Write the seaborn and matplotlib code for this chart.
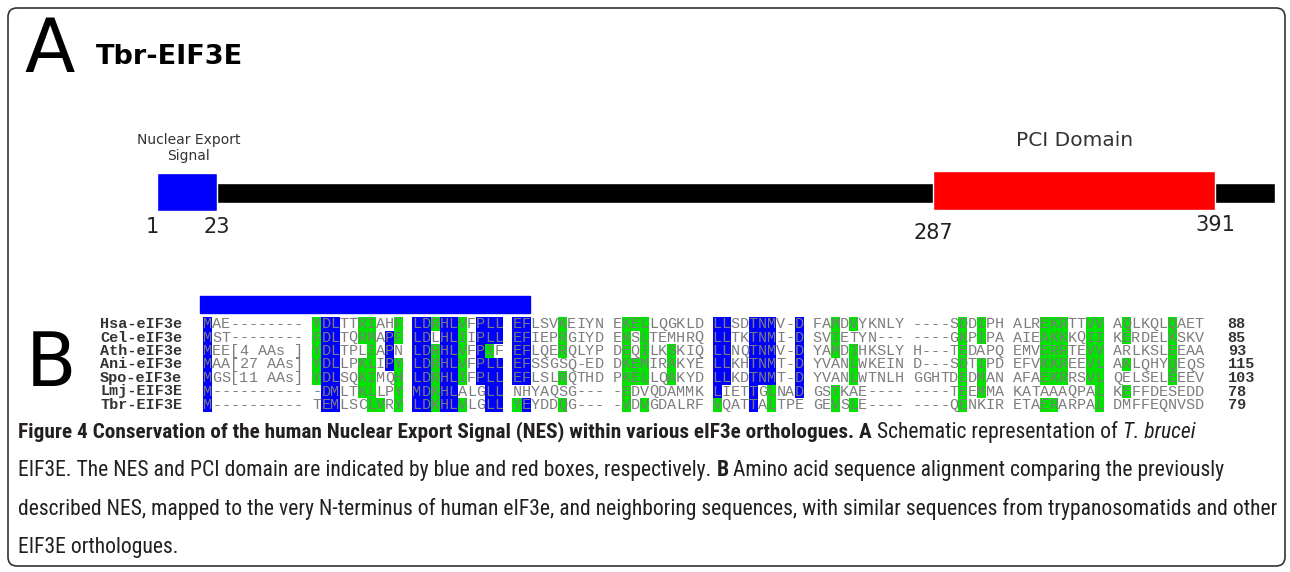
import numpy as np
import matplotlib
matplotlib.use("Agg")
import matplotlib.pyplot as plt
import seaborn as sns
from matplotlib.colors import ListedColormap
from matplotlib.patches import Rectangle, FancyBboxPatch
from matplotlib.transforms import IdentityTransform
from matplotlib import font_manager

W, H, DPI = 1290, 572, 100

# ---------------- data ----------------
panel_title = "Tbr-EIF3E"
protein_length = 413
nes_domain = (1, 23)
pci_domain = (287, 391)
nes_label = "Nuclear Export\nSignal"
pci_label = "PCI Domain"
position_labels = [1, 23, 287, 391]

species = ["Hsa-eIF3e", "Cel-eIF3e", "Ath-eIF3e", "Ani-eIF3e",
           "Spo-eIF3e", "Lmj-EIF3E", "Tbr-EIF3E"]
end_positions = [88, 85, 93, 115, 103, 78, 79]
sequences = [
    "MAE-------- YDLTTRIAHF LDRHLVFPLL EFLSVKEIYN EKELLQGKLD LLSDTNMV-D FAMDVYKNLY ----SDDIPH ALREKRTTVV AQLKQLQAET",
    "MST-------- FDLTQRMAPF LDLHLIIPLL EFIEPRGIYD EKSLTEMHRQ LLTKTNMI-D SVIETYN--- ----GKPIPA AIEAKKKQII KERDELKSKV",
    "MEE[4 AAs ] YDLTPLIAPN LDRHLVFPIF EFLQERQLYP DEQILKSKIQ LLNQTNMV-D YAMDIHKSLY H---TEDAPQ EMVERRTEVV ARLKSLEEAA",
    "MAA[27 AAs] YDLLPKLIPY LDRHLVFPLL EFSSGSQ-ED DKEMIRAKYE LLKHTNMT-D YVANLWKEIN D---SDTIPD EFVKKREEVL AKLQHYQEQS",
    "MGS[11 AAs] YDLSQKIMQH LDRHLIFPLL EFLSLRQTHD PKELLQAKYD LLKDTNMT-D YVANLWTNLH GGHTDEDMAN AFAEKRRSVL QELSELEEEV",
    "M---------- -DMLTKLLPY MDKHLALGLL NHYAQSG--- -EDVQDAMMK LIETTGLNAD GSTKAE---- ----TEEMMA KATAAAQPAL KEFFDESEDD",
    "M---------- TEMLSCLVRY LDKHLVLGLL YEYDDQG--- -VDVGDALRF VQATTALTPE GEVSLE---- ----QENKIR ETAERARPAL DMFFEQNVSD",
]
# b = identical (blue), g = similar (green), . = none
highlights = [
    "b.......... gbb..gg..g bbgbbg.bbb bb...g.... .ggg...... bb..bbb..b ..g.g..... .....g.g.. ...ggg..gg .g....g...",
    "b.......... gbb..gg.bg bb.bbg.bbb bb...g.... .g.g...... bb..bbb..b ..g....... .....g.g.. ...ggg..gg .g....g...",
    "b.......... gbb...g.b. bbgbbg.bg. bb...g.... .g.g..g... bb..bbb..b ..g.g..... .....g.... ...ggg..gg ......g...",
    "b.......... gbb..gg.bg bbgbbg.bbb bb........ .ggg..g... bb..bbb..b ....g..... .....g.g.. ...ggg..gg .g....g...",
    "b.......... gbb..gg..g bbgbbg.bbb bb...g.... .ggg..g... bb..bbb..b ....g..... .....g.g.. ...ggg..gg ......g...",
    "b.......... .bb..gg..g bbgbb...bb .......... .g........ b...b.g..b ..g....... .....g.g.. .........g .g........",
    "b.......... .bb...gg.g bbgbbg..bb gb...g.... .g.g...... g...b.g... ..g.g..... .....g.... ...gg....g ..........",
]
nes_alignment_columns = (0, 36)

caption_lines = [
    [("Figure 4 Conservation of the human Nuclear Export Signal (NES) within various eIF3e orthologues. A", "b"),
     (" Schematic representation of ", "n"), ("T. brucei", "i")],
    [("EIF3E. The NES and PCI domain are indicated by blue and red boxes, respectively. ", "n"), ("B", "b"),
     (" Amino acid sequence alignment comparing the previously", "n")],
    [("described NES, mapped to the very N-terminus of human eIF3e, and neighboring sequences, with similar sequences from trypanosomatids and other", "n")],
    [("EIF3E orthologues.", "n")],
]

# ---------------- style ----------------
sns.set_theme(style="white")
plt.rcParams["font.family"] = ["DejaVu Sans"]

BLUE = "#0000ff"
GREEN = "#00e400"
RED = "#ff0000"
TXT = "#222222"


def have(name):
    try:
        font_manager.findfont(font_manager.FontProperties(family=name),
                              fallback_to_default=False)
        return True
    except Exception:
        return False


cap_family = next((f for f in ["Liberation Sans Narrow", "Roboto Condensed",
                               "Open Sans Condensed", "Noto Sans Condensed",
                               "DejaVu Sans Condensed"] if have(f)), "Liberation Sans")
mono = "Liberation Mono" if have("Liberation Mono") else "DejaVu Sans Mono"

fig = plt.figure(figsize=(W / DPI, H / DPI), dpi=DPI)
fig.patch.set_facecolor("white")


def fx(x):
    return x / W


def fy(y):
    return 1 - y / H


def axes_px(x0, y0, x1, y1):
    return fig.add_axes([fx(x0), fy(y1), (x1 - x0) / W, (y1 - y0) / H])


# border
fig.add_artist(FancyBboxPatch((8, H - 566), 1285 - 8, 566 - 8,
                              boxstyle="round,pad=0,rounding_size=9",
                              transform=IdentityTransform(), fill=False,
                              edgecolor="#333333", linewidth=1.2))

# panel letters and title
fig.text(fx(24), fy(52), "A", fontsize=53, ha="left", va="center", color="black")
fig.text(fx(26), fy(365), "B", fontsize=53, ha="left", va="center", color="black")
fig.text(fx(96), fy(57), panel_title, fontsize=19.5, fontweight="bold",
         ha="left", va="center", color="black")

# ---------------- schematic ----------------
axs = axes_px(157, 160, 1275, 215)
axs.set_xlim(1, protein_length)
axs.set_ylim(0, 55)
axs.axis("off")
axs.barh(y=22, width=protein_length - 1, left=1, height=20, color="black")
axs.barh(y=23, width=nes_domain[1] - nes_domain[0], left=nes_domain[0], height=38,
         color=BLUE)
axs.barh(y=24.5, width=pci_domain[1] - pci_domain[0], left=pci_domain[0], height=39,
         color=RED)

pos_y = [227, 227, 233, 225]
for p, py in zip(position_labels, pos_y):
    x_pix = 157 + (p - 1) * (1275 - 157) / (protein_length - 1)
    fig.text(fx(x_pix - (5 if p == 1 else 0)), fy(py), str(p), fontsize=15,
             ha="center", va="center", color=TXT)

nes_mid = 157 + (np.mean(nes_domain) - 1) * (1275 - 157) / (protein_length - 1)
pci_mid = 157 + (np.mean(pci_domain) - 1) * (1275 - 157) / (protein_length - 1)
fig.text(fx(nes_mid + 2), fy(148), nes_label, fontsize=10, ha="center", va="center",
         color="#333333", linespacing=1.25)
fig.text(fx(pci_mid), fy(141), pci_label, fontsize=14.5, ha="center", va="center",
         color="#333333")

# ---------------- alignment (heatmap) ----------------
code_map = {".": 0, " ": 0, "b": 1, "g": 2}
codes = np.array([[code_map[c] for c in h] for h in highlights])
chars = np.array([list(s) for s in sequences])
ncol = codes.shape[1]
cw, rh = 9.1, 13.5
left_px, top_px = 203, 317.25
axh = axes_px(left_px, top_px, left_px + ncol * cw, top_px + len(species) * rh)
sns.heatmap(codes, ax=axh, cmap=ListedColormap(["white", BLUE, GREEN]),
            vmin=-0.5, vmax=2.5, cbar=False, annot=chars, fmt="",
            annot_kws=dict(fontfamily=mono, fontsize=10.9, color="#7c7c7c"),
            xticklabels=False, yticklabels=species, linewidths=0)
axh.tick_params(axis="y", length=0, pad=15)
for lab in axh.get_yticklabels():
    lab.set_fontfamily(mono)
    lab.set_fontweight("bold")
    lab.set_fontsize(10.9)
    lab.set_color("#333333")
    lab.set_rotation(0)
for i, n in enumerate(end_positions):
    axh.text(ncol + 2.6, i + 0.5, str(n), ha="left", va="center", fontfamily=mono,
             fontweight="bold", fontsize=10.9, color="#333333")
axh.add_patch(Rectangle((nes_alignment_columns[0] - 0.3, -1.57),
                        nes_alignment_columns[1] - nes_alignment_columns[0] + 0.2, 1.26,
                        color=BLUE, clip_on=False))

# ---------------- caption ----------------
renderer = fig.canvas.get_renderer()


def seg_width(txt, st, size):
    t = fig.text(0, 0, txt, fontsize=size, fontfamily=cap_family,
                 fontweight="bold" if st == "b" else "normal",
                 fontstyle="italic" if st == "i" else "normal")
    w = t.get_window_extent(renderer).width
    t.remove()
    return w


x0 = 18
# regular text sized from the all-regular third line, bold lead from line 1
normal_size = 12 * (1275 - x0) / seg_width(caption_lines[2][0][0], "n", 12)
bold_size = 12 * (875 - x0) / seg_width(caption_lines[0][0][0], "b", 12)


def draw_line(y_px, segments):
    x = x0
    for txt, st in segments:
        size = bold_size if (st == "b" and len(txt) > 3) else normal_size
        t = fig.text(fx(x), fy(y_px), txt, fontsize=size, fontfamily=cap_family,
                     fontweight="bold" if st == "b" else "normal",
                     fontstyle="italic" if st == "i" else "normal",
                     ha="left", va="center", color="#231f20")
        x = t.get_window_extent(renderer).x1


for yy, line in zip([432, 470.5, 509, 547.5], caption_lines):
    draw_line(yy, line)

fig.savefig("out.png", dpi=DPI, facecolor="white")
